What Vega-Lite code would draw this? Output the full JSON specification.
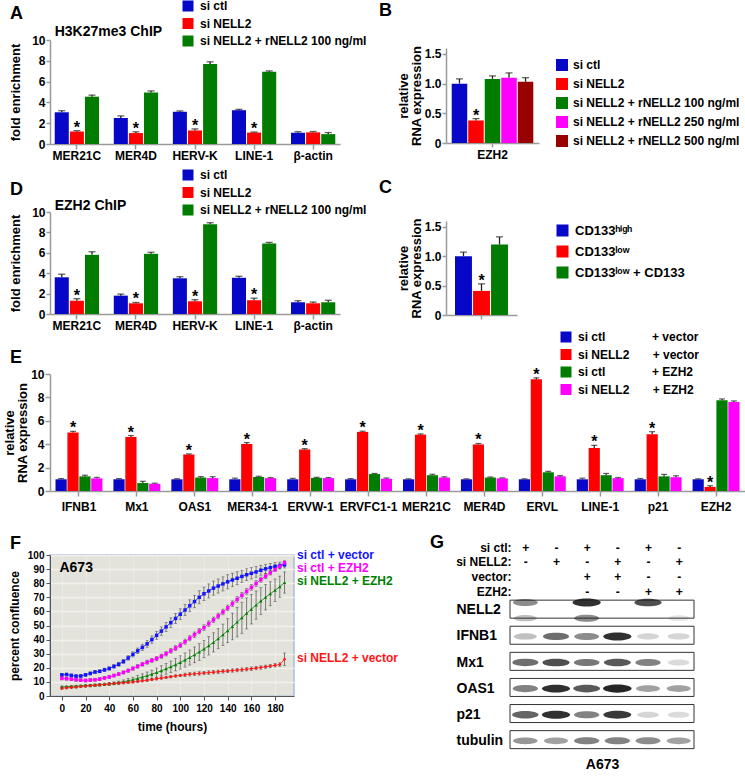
{
"$schema": "https://vega.github.io/schema/vega-lite/v6.json",
"background": "white",
"padding": {"left": 3, "top": 0, "right": 0, "bottom": 0},
"config": {
 "font": "Liberation Sans",
 "view": {"stroke": null},
 "axis": {"labelFont": "Liberation Sans", "labelFontWeight": "bold", "labelFontSize": 12, "labelColor": "#000", "titleFont": "Liberation Sans", "titleFontWeight": "bold", "titleFontSize": 13, "titleColor": "#000", "domainColor": "#9a9a9a", "domainWidth": 1.5, "tickColor": "#9a9a9a", "tickWidth": 1.5, "tickSize": 5, "grid": false, "labelPadding": 3, "titlePadding": 6, "labelOverlap": false},
 "legend": {"labelFont": "Liberation Sans", "labelFontWeight": "bold", "labelFontSize": 12, "labelColor": "#000", "symbolType": "square", "symbolStrokeWidth": 0, "symbolOpacity": 1, "labelLimit": 400, "padding": 0},
 "title": {"font": "Liberation Sans", "fontWeight": "bold", "fontSize": 18, "color": "#000", "anchor": "start", "frame": "group"}
},
"datasets": {
 "A": [
  {"gene":"MER21C","cond":"si ctl","value":3.05,"err":0.15,"star":""},
  {"gene":"MER21C","cond":"si NELL2","value":1.2,"err":0.08,"star":"*"},
  {"gene":"MER21C","cond":"si NELL2 + rNELL2 100 ng/ml","value":4.55,"err":0.15,"star":""},
  {"gene":"MER4D","cond":"si ctl","value":2.5,"err":0.2,"star":""},
  {"gene":"MER4D","cond":"si NELL2","value":1.05,"err":0.12,"star":"*"},
  {"gene":"MER4D","cond":"si NELL2 + rNELL2 100 ng/ml","value":4.95,"err":0.15,"star":""},
  {"gene":"HERV-K","cond":"si ctl","value":3.1,"err":0.08,"star":""},
  {"gene":"HERV-K","cond":"si NELL2","value":1.3,"err":0.15,"star":"*"},
  {"gene":"HERV-K","cond":"si NELL2 + rNELL2 100 ng/ml","value":7.7,"err":0.2,"star":""},
  {"gene":"LINE-1","cond":"si ctl","value":3.25,"err":0.08,"star":""},
  {"gene":"LINE-1","cond":"si NELL2","value":1.1,"err":0.05,"star":"*"},
  {"gene":"LINE-1","cond":"si NELL2 + rNELL2 100 ng/ml","value":6.95,"err":0.08,"star":""},
  {"gene":"β-actin","cond":"si ctl","value":1.08,"err":0.1,"star":""},
  {"gene":"β-actin","cond":"si NELL2","value":1.12,"err":0.08,"star":""},
  {"gene":"β-actin","cond":"si NELL2 + rNELL2 100 ng/ml","value":0.95,"err":0.15,"star":""}
 ],
 "D": [
  {"gene":"MER21C","cond":"si ctl","value":3.6,"err":0.3,"star":""},
  {"gene":"MER21C","cond":"si NELL2","value":1.3,"err":0.2,"star":"*"},
  {"gene":"MER21C","cond":"si NELL2 + rNELL2 100 ng/ml","value":5.8,"err":0.3,"star":""},
  {"gene":"MER4D","cond":"si ctl","value":1.8,"err":0.15,"star":""},
  {"gene":"MER4D","cond":"si NELL2","value":1.05,"err":0.08,"star":"*"},
  {"gene":"MER4D","cond":"si NELL2 + rNELL2 100 ng/ml","value":5.9,"err":0.15,"star":""},
  {"gene":"HERV-K","cond":"si ctl","value":3.5,"err":0.15,"star":""},
  {"gene":"HERV-K","cond":"si NELL2","value":1.25,"err":0.15,"star":"*"},
  {"gene":"HERV-K","cond":"si NELL2 + rNELL2 100 ng/ml","value":8.8,"err":0.15,"star":""},
  {"gene":"LINE-1","cond":"si ctl","value":3.55,"err":0.15,"star":""},
  {"gene":"LINE-1","cond":"si NELL2","value":1.35,"err":0.2,"star":"*"},
  {"gene":"LINE-1","cond":"si NELL2 + rNELL2 100 ng/ml","value":6.9,"err":0.12,"star":""},
  {"gene":"β-actin","cond":"si ctl","value":1.15,"err":0.15,"star":""},
  {"gene":"β-actin","cond":"si NELL2","value":1.05,"err":0.12,"star":""},
  {"gene":"β-actin","cond":"si NELL2 + rNELL2 100 ng/ml","value":1.15,"err":0.2,"star":""}
 ],
 "B": [
  {"gene":"EZH2","cond":"si ctl","value":1.0,"err":0.08,"star":""},
  {"gene":"EZH2","cond":"si NELL2","value":0.38,"err":0.03,"star":"*"},
  {"gene":"EZH2","cond":"si NELL2 + rNELL2 100 ng/ml","value":1.08,"err":0.05,"star":""},
  {"gene":"EZH2","cond":"si NELL2 + rNELL2 250 ng/ml","value":1.1,"err":0.08,"star":""},
  {"gene":"EZH2","cond":"si NELL2 + rNELL2 500 ng/ml","value":1.03,"err":0.07,"star":""}
 ],
 "C": [
  {"gene":"EZH2","cond":"high","value":1.0,"err":0.07,"star":""},
  {"gene":"EZH2","cond":"low","value":0.41,"err":0.12,"star":"*"},
  {"gene":"EZH2","cond":"lowCD","value":1.2,"err":0.13,"star":""}
 ],
 "E": [
  {"gene":"IFNB1","cond":"cv","value":1.0,"err":0.06,"star":""},
  {"gene":"IFNB1","cond":"nv","value":5.0,"err":0.1,"star":"*"},
  {"gene":"IFNB1","cond":"ce","value":1.25,"err":0.1,"star":""},
  {"gene":"IFNB1","cond":"ne","value":1.08,"err":0.08,"star":""},
  {"gene":"Mx1","cond":"cv","value":1.0,"err":0.06,"star":""},
  {"gene":"Mx1","cond":"nv","value":4.62,"err":0.12,"star":"*"},
  {"gene":"Mx1","cond":"ce","value":0.68,"err":0.15,"star":""},
  {"gene":"Mx1","cond":"ne","value":0.62,"err":0.05,"star":""},
  {"gene":"OAS1","cond":"cv","value":1.0,"err":0.05,"star":""},
  {"gene":"OAS1","cond":"nv","value":3.12,"err":0.05,"star":"*"},
  {"gene":"OAS1","cond":"ce","value":1.15,"err":0.08,"star":""},
  {"gene":"OAS1","cond":"ne","value":1.1,"err":0.12,"star":""},
  {"gene":"MER34-1","cond":"cv","value":1.0,"err":0.1,"star":""},
  {"gene":"MER34-1","cond":"nv","value":4.02,"err":0.12,"star":"*"},
  {"gene":"MER34-1","cond":"ce","value":1.2,"err":0.06,"star":""},
  {"gene":"MER34-1","cond":"ne","value":1.1,"err":0.05,"star":""},
  {"gene":"ERVW-1","cond":"cv","value":1.0,"err":0.08,"star":""},
  {"gene":"ERVW-1","cond":"nv","value":3.55,"err":0.07,"star":"*"},
  {"gene":"ERVW-1","cond":"ce","value":1.12,"err":0.05,"star":""},
  {"gene":"ERVW-1","cond":"ne","value":1.1,"err":0.05,"star":""},
  {"gene":"ERVFC1-1","cond":"cv","value":1.0,"err":0.06,"star":""},
  {"gene":"ERVFC1-1","cond":"nv","value":5.05,"err":0.06,"star":"*"},
  {"gene":"ERVFC1-1","cond":"ce","value":1.45,"err":0.05,"star":""},
  {"gene":"ERVFC1-1","cond":"ne","value":1.05,"err":0.06,"star":""},
  {"gene":"MER21C","cond":"cv","value":1.0,"err":0.04,"star":""},
  {"gene":"MER21C","cond":"nv","value":4.82,"err":0.06,"star":"*"},
  {"gene":"MER21C","cond":"ce","value":1.35,"err":0.08,"star":""},
  {"gene":"MER21C","cond":"ne","value":1.15,"err":0.06,"star":""},
  {"gene":"MER4D","cond":"cv","value":1.0,"err":0.04,"star":""},
  {"gene":"MER4D","cond":"nv","value":3.98,"err":0.08,"star":"*"},
  {"gene":"MER4D","cond":"ce","value":1.15,"err":0.05,"star":""},
  {"gene":"MER4D","cond":"ne","value":1.08,"err":0.04,"star":""},
  {"gene":"ERVL","cond":"cv","value":1.0,"err":0.04,"star":""},
  {"gene":"ERVL","cond":"nv","value":9.55,"err":0.12,"star":"*"},
  {"gene":"ERVL","cond":"ce","value":1.6,"err":0.08,"star":""},
  {"gene":"ERVL","cond":"ne","value":1.25,"err":0.06,"star":""},
  {"gene":"LINE-1","cond":"cv","value":1.0,"err":0.1,"star":""},
  {"gene":"LINE-1","cond":"nv","value":3.68,"err":0.22,"star":"*"},
  {"gene":"LINE-1","cond":"ce","value":1.35,"err":0.15,"star":""},
  {"gene":"LINE-1","cond":"ne","value":1.1,"err":0.05,"star":""},
  {"gene":"p21","cond":"cv","value":1.0,"err":0.07,"star":""},
  {"gene":"p21","cond":"nv","value":4.85,"err":0.22,"star":"*"},
  {"gene":"p21","cond":"ce","value":1.25,"err":0.17,"star":""},
  {"gene":"p21","cond":"ne","value":1.18,"err":0.12,"star":""},
  {"gene":"EZH2","cond":"cv","value":1.0,"err":0.04,"star":""},
  {"gene":"EZH2","cond":"nv","value":0.35,"err":0.1,"star":"*"},
  {"gene":"EZH2","cond":"ce","value":7.75,"err":0.12,"star":""},
  {"gene":"EZH2","cond":"ne","value":7.6,"err":0.1,"star":""}
 ],
 "growth": [
  {"t":0,"s":"cv","v":15,"e":1},{"t":4,"s":"cv","v":15.2,"e":1},{"t":8,"s":"cv","v":14.6,"e":1},{"t":12,"s":"cv","v":14.1,"e":1},{"t":16,"s":"cv","v":14.2,"e":1},{"t":20,"s":"cv","v":15,"e":1},{"t":24,"s":"cv","v":16,"e":1},{"t":28,"s":"cv","v":17,"e":1},{"t":32,"s":"cv","v":17.5,"e":1},{"t":36,"s":"cv","v":18.5,"e":1.2},{"t":40,"s":"cv","v":19.5,"e":1.2},{"t":44,"s":"cv","v":21,"e":1.3},{"t":48,"s":"cv","v":22.5,"e":1.4},{"t":52,"s":"cv","v":24.5,"e":1.5},{"t":56,"s":"cv","v":27,"e":1.6},{"t":60,"s":"cv","v":29.5,"e":1.8},{"t":64,"s":"cv","v":32,"e":2},{"t":68,"s":"cv","v":34.5,"e":2.2},{"t":72,"s":"cv","v":37,"e":2.4},{"t":76,"s":"cv","v":40,"e":2.6},{"t":80,"s":"cv","v":43,"e":2.8},{"t":84,"s":"cv","v":46,"e":3},{"t":88,"s":"cv","v":49,"e":3.2},{"t":92,"s":"cv","v":52,"e":3.4},{"t":96,"s":"cv","v":55,"e":3.6},{"t":100,"s":"cv","v":58,"e":3.8},{"t":104,"s":"cv","v":61,"e":4},{"t":108,"s":"cv","v":64,"e":4.2},{"t":112,"s":"cv","v":67,"e":4.4},{"t":116,"s":"cv","v":70,"e":4.6},{"t":120,"s":"cv","v":72.5,"e":4.8},{"t":124,"s":"cv","v":74.5,"e":5},{"t":128,"s":"cv","v":76.5,"e":5},{"t":132,"s":"cv","v":78,"e":5},{"t":136,"s":"cv","v":79.5,"e":5},{"t":140,"s":"cv","v":81,"e":5},{"t":144,"s":"cv","v":82.3,"e":4.8},{"t":148,"s":"cv","v":83.5,"e":4.6},{"t":152,"s":"cv","v":84.8,"e":4.4},{"t":156,"s":"cv","v":86,"e":4.2},{"t":160,"s":"cv","v":87,"e":4},{"t":164,"s":"cv","v":88,"e":3.8},{"t":168,"s":"cv","v":89.2,"e":3.5},{"t":172,"s":"cv","v":90.2,"e":3.2},{"t":176,"s":"cv","v":91,"e":3},{"t":180,"s":"cv","v":92,"e":2.8},{"t":184,"s":"cv","v":92.5,"e":2.5},{"t":188,"s":"cv","v":93,"e":2.2},
  {"t":0,"s":"ce","v":12.5,"e":1},{"t":4,"s":"ce","v":12.3,"e":1},{"t":8,"s":"ce","v":12,"e":1},{"t":12,"s":"ce","v":11.5,"e":1},{"t":16,"s":"ce","v":11.2,"e":1},{"t":20,"s":"ce","v":11,"e":1},{"t":24,"s":"ce","v":11.3,"e":1},{"t":28,"s":"ce","v":11.5,"e":1},{"t":32,"s":"ce","v":12,"e":1},{"t":36,"s":"ce","v":12.8,"e":1},{"t":40,"s":"ce","v":13.5,"e":1},{"t":44,"s":"ce","v":14.5,"e":1},{"t":48,"s":"ce","v":15.5,"e":1},{"t":52,"s":"ce","v":16.7,"e":1.1},{"t":56,"s":"ce","v":18,"e":1.2},{"t":60,"s":"ce","v":19.5,"e":1.2},{"t":64,"s":"ce","v":21,"e":1.3},{"t":68,"s":"ce","v":22.5,"e":1.3},{"t":72,"s":"ce","v":24,"e":1.4},{"t":76,"s":"ce","v":25.3,"e":1.4},{"t":80,"s":"ce","v":26.5,"e":1.5},{"t":84,"s":"ce","v":28.2,"e":1.5},{"t":88,"s":"ce","v":30,"e":1.6},{"t":92,"s":"ce","v":32,"e":1.6},{"t":96,"s":"ce","v":34,"e":1.7},{"t":100,"s":"ce","v":36,"e":1.7},{"t":104,"s":"ce","v":38.5,"e":1.8},{"t":108,"s":"ce","v":41,"e":1.8},{"t":112,"s":"ce","v":43.5,"e":1.9},{"t":116,"s":"ce","v":46,"e":1.9},{"t":120,"s":"ce","v":48.5,"e":2},{"t":124,"s":"ce","v":51.3,"e":2},{"t":128,"s":"ce","v":54,"e":2},{"t":132,"s":"ce","v":56.8,"e":2},{"t":136,"s":"ce","v":59.6,"e":2},{"t":140,"s":"ce","v":62.5,"e":2},{"t":144,"s":"ce","v":65.5,"e":2},{"t":148,"s":"ce","v":68.5,"e":2},{"t":152,"s":"ce","v":71.4,"e":2},{"t":156,"s":"ce","v":74.2,"e":2},{"t":160,"s":"ce","v":77,"e":2},{"t":164,"s":"ce","v":79.8,"e":2},{"t":168,"s":"ce","v":82.5,"e":1.8},{"t":172,"s":"ce","v":85,"e":1.8},{"t":176,"s":"ce","v":87.4,"e":1.6},{"t":180,"s":"ce","v":89.7,"e":1.5},{"t":184,"s":"ce","v":92,"e":1.5},{"t":188,"s":"ce","v":94.5,"e":1.4},
  {"t":0,"s":"ne","v":6.5,"e":0.6},{"t":4,"s":"ne","v":6.6,"e":0.6},{"t":8,"s":"ne","v":6.8,"e":0.6},{"t":12,"s":"ne","v":7,"e":0.6},{"t":16,"s":"ne","v":7.2,"e":0.6},{"t":20,"s":"ne","v":7.4,"e":0.7},{"t":24,"s":"ne","v":7.6,"e":0.7},{"t":28,"s":"ne","v":7.8,"e":0.7},{"t":32,"s":"ne","v":8,"e":0.8},{"t":36,"s":"ne","v":8.3,"e":0.8},{"t":40,"s":"ne","v":8.6,"e":0.9},{"t":44,"s":"ne","v":9,"e":1},{"t":48,"s":"ne","v":9.5,"e":1.1},{"t":52,"s":"ne","v":10.1,"e":1.3},{"t":56,"s":"ne","v":10.8,"e":1.5},{"t":60,"s":"ne","v":11.6,"e":1.7},{"t":64,"s":"ne","v":12.5,"e":2},{"t":68,"s":"ne","v":13.4,"e":2.3},{"t":72,"s":"ne","v":14.4,"e":2.6},{"t":76,"s":"ne","v":15.5,"e":2.9},{"t":80,"s":"ne","v":16.6,"e":3.2},{"t":84,"s":"ne","v":17.9,"e":3.5},{"t":88,"s":"ne","v":19.3,"e":3.8},{"t":92,"s":"ne","v":20.7,"e":4.1},{"t":96,"s":"ne","v":22.2,"e":4.4},{"t":100,"s":"ne","v":23.8,"e":4.7},{"t":104,"s":"ne","v":25.5,"e":5},{"t":108,"s":"ne","v":27.3,"e":5.3},{"t":112,"s":"ne","v":29.2,"e":5.6},{"t":116,"s":"ne","v":31.2,"e":5.9},{"t":120,"s":"ne","v":33.3,"e":6.2},{"t":124,"s":"ne","v":35.6,"e":6.5},{"t":128,"s":"ne","v":38,"e":6.8},{"t":132,"s":"ne","v":40.6,"e":7.1},{"t":136,"s":"ne","v":43.4,"e":7.6},{"t":140,"s":"ne","v":46.3,"e":8.5},{"t":144,"s":"ne","v":49.3,"e":9.5},{"t":148,"s":"ne","v":52.4,"e":10.5},{"t":152,"s":"ne","v":55.5,"e":11},{"t":156,"s":"ne","v":58.6,"e":11},{"t":160,"s":"ne","v":61.6,"e":10.5},{"t":164,"s":"ne","v":64.5,"e":10},{"t":168,"s":"ne","v":67.3,"e":9.5},{"t":172,"s":"ne","v":70,"e":9},{"t":176,"s":"ne","v":72.5,"e":8.5},{"t":180,"s":"ne","v":75,"e":8},{"t":184,"s":"ne","v":77.5,"e":7.5},{"t":188,"s":"ne","v":80.5,"e":7.5},
  {"t":0,"s":"nv","v":5.5,"e":0.8},{"t":4,"s":"nv","v":5.8,"e":0.8},{"t":8,"s":"nv","v":6.1,"e":0.8},{"t":12,"s":"nv","v":6.4,"e":0.8},{"t":16,"s":"nv","v":6.7,"e":0.8},{"t":20,"s":"nv","v":7,"e":0.8},{"t":24,"s":"nv","v":7.3,"e":0.8},{"t":28,"s":"nv","v":7.6,"e":0.8},{"t":32,"s":"nv","v":7.9,"e":0.8},{"t":36,"s":"nv","v":8.2,"e":0.8},{"t":40,"s":"nv","v":8.5,"e":0.8},{"t":44,"s":"nv","v":8.8,"e":0.8},{"t":48,"s":"nv","v":9.1,"e":0.8},{"t":52,"s":"nv","v":9.4,"e":0.8},{"t":56,"s":"nv","v":9.7,"e":0.8},{"t":60,"s":"nv","v":10,"e":0.8},{"t":64,"s":"nv","v":10.4,"e":0.8},{"t":68,"s":"nv","v":10.8,"e":0.8},{"t":72,"s":"nv","v":11.2,"e":0.8},{"t":76,"s":"nv","v":11.7,"e":0.8},{"t":80,"s":"nv","v":12.2,"e":0.8},{"t":84,"s":"nv","v":12.7,"e":0.8},{"t":88,"s":"nv","v":13.2,"e":0.8},{"t":92,"s":"nv","v":13.7,"e":0.8},{"t":96,"s":"nv","v":14.2,"e":0.8},{"t":100,"s":"nv","v":14.6,"e":0.8},{"t":104,"s":"nv","v":15,"e":1.2},{"t":108,"s":"nv","v":15.4,"e":1.2},{"t":112,"s":"nv","v":15.7,"e":1.2},{"t":116,"s":"nv","v":16,"e":1.2},{"t":120,"s":"nv","v":16.3,"e":1.2},{"t":124,"s":"nv","v":16.6,"e":1.2},{"t":128,"s":"nv","v":16.9,"e":1.2},{"t":132,"s":"nv","v":17.2,"e":1.2},{"t":136,"s":"nv","v":17.5,"e":1.2},{"t":140,"s":"nv","v":17.8,"e":1.2},{"t":144,"s":"nv","v":18.1,"e":1.2},{"t":148,"s":"nv","v":18.4,"e":1.2},{"t":152,"s":"nv","v":18.7,"e":1.2},{"t":156,"s":"nv","v":19,"e":1.2},{"t":160,"s":"nv","v":19.4,"e":1.2},{"t":164,"s":"nv","v":19.8,"e":1.2},{"t":168,"s":"nv","v":20.2,"e":1.2},{"t":172,"s":"nv","v":20.7,"e":1.2},{"t":176,"s":"nv","v":21.2,"e":1.2},{"t":180,"s":"nv","v":21.8,"e":1.2},{"t":184,"s":"nv","v":22.3,"e":1.2},{"t":188,"s":"nv","v":26,"e":4.5}
 ],
 "blot": [
  {"protein":"NELL2","lane":1,"pos":"upper","level":0.5},{"protein":"NELL2","lane":1,"pos":"lower","level":0.25},
  {"protein":"NELL2","lane":3,"pos":"upper","level":0.95},{"protein":"NELL2","lane":3,"pos":"lower","level":0.5},
  {"protein":"NELL2","lane":5,"pos":"upper","level":0.8},{"protein":"NELL2","lane":6,"pos":"lower","level":0.06},
  {"protein":"IFNB1","lane":1,"pos":"mid","level":0.25},{"protein":"IFNB1","lane":2,"pos":"mid","level":0.65},{"protein":"IFNB1","lane":3,"pos":"mid","level":0.5},{"protein":"IFNB1","lane":4,"pos":"mid","level":0.95},{"protein":"IFNB1","lane":5,"pos":"mid","level":0.15},{"protein":"IFNB1","lane":6,"pos":"mid","level":0.15},
  {"protein":"Mx1","lane":1,"pos":"mid","level":0.65},{"protein":"Mx1","lane":2,"pos":"mid","level":0.8},{"protein":"Mx1","lane":3,"pos":"mid","level":0.6},{"protein":"Mx1","lane":4,"pos":"mid","level":0.75},{"protein":"Mx1","lane":5,"pos":"mid","level":0.55},{"protein":"Mx1","lane":6,"pos":"mid","level":0.12},
  {"protein":"OAS1","lane":1,"pos":"mid","level":0.55},{"protein":"OAS1","lane":2,"pos":"mid","level":0.95},{"protein":"OAS1","lane":3,"pos":"mid","level":0.75},{"protein":"OAS1","lane":4,"pos":"mid","level":1.0},{"protein":"OAS1","lane":5,"pos":"mid","level":0.4},{"protein":"OAS1","lane":6,"pos":"mid","level":0.4},
  {"protein":"p21","lane":1,"pos":"mid","level":0.7},{"protein":"p21","lane":2,"pos":"mid","level":0.95},{"protein":"p21","lane":3,"pos":"mid","level":0.55},{"protein":"p21","lane":4,"pos":"mid","level":0.9},{"protein":"p21","lane":5,"pos":"mid","level":0.15},{"protein":"p21","lane":6,"pos":"mid","level":0.12},
  {"protein":"tubulin","lane":1,"pos":"mid","level":0.45},{"protein":"tubulin","lane":2,"pos":"mid","level":0.4},{"protein":"tubulin","lane":3,"pos":"mid","level":0.55},{"protein":"tubulin","lane":4,"pos":"mid","level":0.55},{"protein":"tubulin","lane":5,"pos":"mid","level":0.5},{"protein":"tubulin","lane":6,"pos":"mid","level":0.4}
 ]
},
"resolve": {"scale": {"color": "independent", "xOffset": "independent", "shape": "independent", "opacity": "independent", "size": "independent"}, "legend": {"color": "independent"}},
"spacing": 0,
"vconcat": [
 {
  "spacing": 12,
  "resolve": {"scale": {"color": "independent", "xOffset": "independent"}, "legend": {"color": "independent"}},
  "hconcat": [
   {
    "width": 290, "height": 104,
    "title": {"text": "A", "dx": -40, "offset": -23},
    "layer": [
     {
      "data": {"name": "A"},
      "transform": [{"calculate": "datum.value + datum.err", "as": "hi"}],
      "encoding": {
       "x": {"field": "gene", "type": "nominal", "sort": null, "scale": {"paddingInner": 0.25, "paddingOuter": 0.08}, "axis": {"title": null, "labelAngle": 0, "labelPadding": 1}},
       "xOffset": {"field": "cond", "type": "nominal", "sort": null, "scale": {"paddingInner": 0.07}}
      },
      "layer": [
       {"mark": {"type": "bar"}, "encoding": {
         "y": {"field": "value", "type": "quantitative", "scale": {"domain": [0, 10]}, "axis": {"title": "fold enrichment", "values": [0,2,4,6,8,10], "format": "d", "tickCount": 50, "labelOverlap": false, "tickSize": 4, "labelPadding": 1, "titlePadding": 9}},
         "color": {"field": "cond", "type": "nominal", "scale": {"domain": ["si ctl","si NELL2","si NELL2 + rNELL2 100 ng/ml"], "range": ["#0707c8","#ff0000","#007d00"]},
           "legend": {"title": null, "orient": "none", "legendX": 132, "legendY": -40, "symbolSize": 121, "rowPadding": 5.5, "labelOffset": 6}}}},
       {"mark": {"type": "rule", "color": "#222", "strokeWidth": 1.3}, "encoding": {"y": {"field": "value", "type": "quantitative"}, "y2": {"field": "hi"}}},
       {"mark": {"type": "tick", "orient": "horizontal", "color": "#222", "size": 7, "thickness": 1.3}, "encoding": {"y": {"field": "hi", "type": "quantitative"}}},
       {"transform": [{"filter": "datum.star == '*'"}], "mark": {"type": "text", "fontSize": 16, "fontWeight": "bold", "baseline": "alphabetic", "dy": 2}, "encoding": {"y": {"field": "hi", "type": "quantitative"}, "text": {"field": "star"}}}
      ]
     },
     {
      "data": {"values": [{"label": "H3K27me3 ChIP"}]},
      "mark": {"type": "text", "align": "left", "baseline": "middle", "dy": -8, "fontSize": 14, "fontWeight": "bold", "color": "#000"},
      "encoding": {"x": {"datum": "MER21C", "type": "nominal", "bandPosition": 0}, "y": {"datum": 10, "type": "quantitative"}, "text": {"field": "label"}}
     }
    ]
   },
   {
    "width": 93, "height": 103,
    "data": {"name": "B"},
    "title": {"text": "B", "dx": -67, "offset": 20},
    "transform": [{"calculate": "datum.value + datum.err", "as": "hi"}],
    "encoding": {
     "x": {"field": "gene", "type": "nominal", "scale": {"paddingInner": 0, "paddingOuter": 0.07}, "axis": {"title": ".", "titleColor": "white", "titleFontSize": 2, "titlePadding": 7, "labelAngle": 0, "tickSize": 4, "labelPadding": 2}},
     "xOffset": {"field": "cond", "type": "nominal", "sort": null, "scale": {"paddingInner": 0.06}}
    },
    "layer": [
     {"mark": {"type": "bar"}, "encoding": {
       "y": {"field": "value", "type": "quantitative", "scale": {"domain": [0, 1.5], "range": [103, 8]}, "axis": {"title": ["relative", "RNA expression"], "values": [0, 0.5, 1, 1.5], "tickCount": 50, "labelOverlap": false, "labelExpr": "datum.value == 0 ? '0' : format(datum.value, '.1f')", "titleLineHeight": 13, "tickSize": 4, "labelPadding": 1, "titlePadding": 1}},
       "color": {"field": "cond", "type": "nominal", "scale": {"domain": ["si ctl","si NELL2","si NELL2 + rNELL2 100 ng/ml","si NELL2 + rNELL2 250 ng/ml","si NELL2 + rNELL2 500 ng/ml"], "range": ["#0707c8","#ff0000","#007d00","#ff00ff","#990000"]},
         "legend": {"title": null, "orient": "none", "legendX": 110, "legendY": 19, "symbolSize": 144, "rowPadding": 7, "labelOffset": 5}}}},
     {"mark": {"type": "rule", "color": "#222", "strokeWidth": 1.3}, "encoding": {"y": {"field": "value", "type": "quantitative"}, "y2": {"field": "hi"}}},
     {"mark": {"type": "tick", "orient": "horizontal", "color": "#222", "size": 7, "thickness": 1.3}, "encoding": {"y": {"field": "hi", "type": "quantitative"}}},
     {"transform": [{"filter": "datum.star == '*'"}], "mark": {"type": "text", "fontSize": 16, "fontWeight": "bold", "baseline": "alphabetic", "dy": 2}, "encoding": {"y": {"field": "hi", "type": "quantitative"}, "text": {"field": "star"}}}
    ]
   }
  ]
 },
 {
  "spacing": 12,
  "resolve": {"scale": {"color": "independent", "xOffset": "independent"}, "legend": {"color": "independent"}},
  "hconcat": [
   {
    "width": 290, "height": 102,
    "title": {"text": "D", "dx": -40, "offset": -30},
    "layer": [
     {
      "data": {"name": "D"},
      "transform": [{"calculate": "datum.value + datum.err", "as": "hi"}],
      "encoding": {
       "x": {"field": "gene", "type": "nominal", "sort": null, "scale": {"paddingInner": 0.25, "paddingOuter": 0.08}, "axis": {"title": null, "labelAngle": 0, "labelPadding": 1}},
       "xOffset": {"field": "cond", "type": "nominal", "sort": null, "scale": {"paddingInner": 0.07}}
      },
      "layer": [
       {"mark": {"type": "bar"}, "encoding": {
         "y": {"field": "value", "type": "quantitative", "scale": {"domain": [0, 10]}, "axis": {"title": "fold enrichment", "values": [0,2,4,6,8,10], "format": "d", "tickCount": 50, "labelOverlap": false, "tickSize": 4, "labelPadding": 1, "titlePadding": 9}},
         "color": {"field": "cond", "type": "nominal", "scale": {"domain": ["si ctl","si NELL2","si NELL2 + rNELL2 100 ng/ml"], "range": ["#0707c8","#ff0000","#007d00"]},
           "legend": {"title": null, "orient": "none", "legendX": 132, "legendY": -43, "symbolSize": 121, "rowPadding": 5.5, "labelOffset": 6}}}},
       {"mark": {"type": "rule", "color": "#222", "strokeWidth": 1.3}, "encoding": {"y": {"field": "value", "type": "quantitative"}, "y2": {"field": "hi"}}},
       {"mark": {"type": "tick", "orient": "horizontal", "color": "#222", "size": 7, "thickness": 1.3}, "encoding": {"y": {"field": "hi", "type": "quantitative"}}},
       {"transform": [{"filter": "datum.star == '*'"}], "mark": {"type": "text", "fontSize": 16, "fontWeight": "bold", "baseline": "alphabetic", "dy": 2}, "encoding": {"y": {"field": "hi", "type": "quantitative"}, "text": {"field": "star"}}}
      ]
     },
     {
      "data": {"values": [{"label": "EZH2 ChIP"}]},
      "mark": {"type": "text", "align": "left", "baseline": "middle", "dy": -6, "fontSize": 14, "fontWeight": "bold", "color": "#000"},
      "encoding": {"x": {"datum": "MER21C", "type": "nominal", "bandPosition": 0}, "y": {"datum": 10, "type": "quantitative"}, "text": {"field": "label"}}
     }
    ]
   },
   {
    "width": 71, "height": 103,
    "data": {"name": "C"},
    "title": {"text": "C", "dx": -67, "offset": 15},
    "transform": [{"calculate": "datum.value + datum.err", "as": "hi"}],
    "encoding": {
     "x": {"field": "gene", "type": "nominal", "scale": {"paddingInner": 0, "paddingOuter": 0.17}, "axis": {"title": null, "labels": false, "tickSize": 4}},
     "xOffset": {"field": "cond", "type": "nominal", "sort": null, "scale": {"paddingInner": 0.06}}
    },
    "layer": [
     {"mark": {"type": "bar"}, "encoding": {
       "y": {"field": "value", "type": "quantitative", "scale": {"domain": [0, 1.5], "range": [103, 9]}, "axis": {"title": ["relative", "RNA expression"], "values": [0, 0.5, 1, 1.5], "tickCount": 50, "labelOverlap": false, "labelExpr": "datum.value == 0 ? '0' : format(datum.value, '.1f')", "titleLineHeight": 13, "tickSize": 4, "labelPadding": 1, "titlePadding": 1}},
       "color": {"field": "cond", "type": "nominal", "scale": {"domain": ["high","low","lowCD"], "range": ["#0707c8","#ff0000","#007d00"]},
         "legend": {"title": null, "orient": "none", "legendX": 110, "legendY": 12, "symbolSize": 144, "rowPadding": 7, "labelOffset": 6, "labelFontSize": 13,
           "labelExpr": "datum.label == 'high' ? 'CD133ʰⁱᵍʰ' : datum.label == 'low' ? 'CD133ˡᵒʷ' : 'CD133ˡᵒʷ + CD133'"}}}},
     {"mark": {"type": "rule", "color": "#222", "strokeWidth": 1.3}, "encoding": {"y": {"field": "value", "type": "quantitative"}, "y2": {"field": "hi"}}},
     {"mark": {"type": "tick", "orient": "horizontal", "color": "#222", "size": 7, "thickness": 1.3}, "encoding": {"y": {"field": "hi", "type": "quantitative"}}},
     {"transform": [{"filter": "datum.star == '*'"}], "mark": {"type": "text", "fontSize": 16, "fontWeight": "bold", "baseline": "alphabetic", "dy": 2}, "encoding": {"y": {"field": "hi", "type": "quantitative"}, "text": {"field": "star"}}}
    ]
   }
  ]
 },
 {
  "width": 695, "height": 117,
  "data": {"name": "E"},
  "title": {"text": "E", "dx": -40, "offset": -36},
  "transform": [{"calculate": "datum.value + datum.err", "as": "hi"}],
  "encoding": {
   "x": {"field": "gene", "type": "nominal", "sort": null, "scale": {"paddingInner": 0.19, "paddingOuter": 0.095}, "axis": {"title": ".", "titleColor": "white", "titleFontSize": 2, "titlePadding": 20, "labelAngle": 0, "labelPadding": 5}},
   "xOffset": {"field": "cond", "type": "nominal", "sort": null, "scale": {"paddingInner": 0.06}}
  },
  "layer": [
   {"mark": {"type": "bar"}, "encoding": {
     "y": {"field": "value", "type": "quantitative", "scale": {"domain": [0, 10]}, "axis": {"title": ["relative", "RNA expression"], "values": [0,2,4,6,8,10], "format": "d", "tickCount": 50, "labelOverlap": false, "titleLineHeight": 13, "tickSize": 5, "labelPadding": 1, "titlePadding": 1}},
     "color": {"field": "cond", "type": "nominal", "scale": {"domain": ["cv","nv","ce","ne"], "range": ["#0707c8","#ff0000","#007d00","#ff00ff"]},
       "legend": {"title": null, "orient": "none", "legendX": 510, "legendY": -43, "symbolSize": 121, "rowPadding": 5.5, "labelOffset": 6,
         "labelExpr": "datum.label == 'cv' ? 'si ctl\u00a0\u00a0\u00a0\u00a0\u00a0\u00a0\u00a0\u00a0\u00a0\u00a0\u00a0\u00a0\u00a0\u00a0+ vector' : datum.label == 'nv' ? 'si NELL2\u00a0\u00a0\u00a0\u00a0\u00a0\u00a0\u00a0+ vector' : datum.label == 'ce' ? 'si ctl\u00a0\u00a0\u00a0\u00a0\u00a0\u00a0\u00a0\u00a0\u00a0\u00a0\u00a0\u00a0\u00a0\u00a0+ EZH2' : 'si NELL2\u00a0\u00a0\u00a0\u00a0\u00a0\u00a0\u00a0+ EZH2'"}}}},
   {"mark": {"type": "rule", "color": "#222", "strokeWidth": 1.2}, "encoding": {"y": {"field": "value", "type": "quantitative"}, "y2": {"field": "hi"}}},
   {"mark": {"type": "tick", "orient": "horizontal", "color": "#222", "size": 6, "thickness": 1.2}, "encoding": {"y": {"field": "hi", "type": "quantitative"}}},
   {"transform": [{"filter": "datum.star == '*'"}], "mark": {"type": "text", "fontSize": 16, "fontWeight": "bold", "baseline": "alphabetic", "dy": 2}, "encoding": {"y": {"field": "hi", "type": "quantitative"}, "text": {"field": "star"}}}
  ]
 },
 {
  "spacing": 31,
  "resolve": {"scale": {"color": "independent", "shape": "independent", "opacity": "independent", "size": "independent"}},
  "hconcat": [
   {
    "width": 244, "height": 141,
    "title": {"text": "F", "dx": -40, "offset": -4},
    "view": {"fill": "#e3e3db", "stroke": "#aabbd6", "strokeWidth": 1.5},
    "layer": [
     {
      "data": {"name": "growth"},
      "transform": [{"calculate": "datum.v - datum.e", "as": "lo"}, {"calculate": "datum.v + datum.e", "as": "hi"}],
      "layer": [
       {"mark": {"type": "rule", "color": "#4a4a4a", "strokeWidth": 0.7}, "encoding": {
         "x": {"field": "t", "type": "quantitative", "scale": {"domain": [-10, 196], "nice": false, "zero": false}, "axis": {"values": [0,20,40,60,80,100,120,140,160,180], "format": "d", "tickCount": 50, "labelOverlap": false, "title": "time (hours)", "labelFontSize": 10, "titleFontSize": 12, "domainColor": "#555", "tickColor": "#555", "domainWidth": 1, "tickWidth": 1, "tickSize": 4, "grid": true, "gridColor": "#ebebe5", "titlePadding": 8}},
         "y": {"field": "lo", "type": "quantitative", "scale": {"domain": [0, 100], "nice": false}, "axis": {"values": [0,10,20,30,40,50,60,70,80,90,100], "format": "d", "tickCount": 50, "labelOverlap": false, "title": "percent confluence", "labelFontSize": 10, "titleFontSize": 12, "domainColor": "#555", "tickColor": "#555", "domainWidth": 1, "tickWidth": 1, "tickSize": 4, "grid": true, "gridColor": "#f1f1ec", "gridWidth": 1.5, "labelPadding": 2}},
         "y2": {"field": "hi"}}},
       {"mark": {"type": "tick", "orient": "horizontal", "color": "#4a4a4a", "size": 3, "thickness": 0.7}, "encoding": {"x": {"field": "t", "type": "quantitative"}, "y": {"field": "hi", "type": "quantitative"}}},
       {"mark": {"type": "tick", "orient": "horizontal", "color": "#4a4a4a", "size": 3, "thickness": 0.7}, "encoding": {"x": {"field": "t", "type": "quantitative"}, "y": {"field": "lo", "type": "quantitative"}}},
       {"mark": {"type": "line", "strokeWidth": 0.8}, "encoding": {"x": {"field": "t", "type": "quantitative"}, "y": {"field": "v", "type": "quantitative"},
         "color": {"field": "s", "type": "nominal", "scale": {"domain": ["cv","ce","ne","nv"], "range": ["#1515ff","#ff00ff","#008000","#ff1515"]}, "legend": null}}},
       {"mark": {"type": "point", "filled": true, "size": 12, "opacity": 1}, "encoding": {"x": {"field": "t", "type": "quantitative"}, "y": {"field": "v", "type": "quantitative"},
         "color": {"field": "s", "type": "nominal", "legend": null},
         "shape": {"field": "s", "type": "nominal", "scale": {"domain": ["cv","ce","ne","nv"], "range": ["square","square","triangle-up","diamond"]}, "legend": null}}}
      ]
     },
     {
      "data": {"values": [{"s": "cv", "name": "si ctl + vector", "v": 100}, {"s": "ce", "name": "si ctl + EZH2", "v": 91}, {"s": "ne", "name": "si NELL2 + EZH2", "v": 81.6}, {"s": "nv", "name": "si NELL2 + vector", "v": 27}]},
      "mark": {"type": "text", "align": "left", "dx": 3, "fontSize": 12, "fontWeight": "bold", "baseline": "middle"},
      "encoding": {"x": {"datum": 196, "type": "quantitative"}, "y": {"field": "v", "type": "quantitative"}, "text": {"field": "name"}, "color": {"field": "s", "type": "nominal", "legend": null}}
     },
     {
      "data": {"values": [{"name": "A673", "t": -2, "v": 90.8}]},
      "mark": {"type": "text", "align": "left", "fontSize": 14, "fontWeight": "bold", "baseline": "middle", "color": "#000"},
      "encoding": {"x": {"field": "t", "type": "quantitative"}, "y": {"field": "v", "type": "quantitative"}, "text": {"field": "name"}}
     }
    ]
   },
   {
    "width": 184, "height": 196,
    "title": {"text": "G", "dx": -80, "offset": -11},
    "resolve": {"axis": {"x": "independent"}},
    "layer": [
     {
      "data": {"values": [{"protein": "NELL2"}, {"protein": "IFNB1"}, {"protein": "Mx1"}, {"protein": "OAS1"}, {"protein": "p21"}, {"protein": "tubulin"}]},
      "mark": {"type": "bar", "fill": "white", "stroke": "#333", "strokeWidth": 1},
      "encoding": {
       "y": {"field": "protein", "type": "nominal", "sort": ["NELL2","IFNB1","Mx1","OAS1","p21","tubulin"], "scale": {"paddingInner": 0.22, "paddingOuter": 0.865, "align": 1}, "axis": {"title": null, "domain": false, "ticks": false, "tickSize": 0, "labelAlign": "left", "labelPadding": 54, "labelFontSize": 14}},
       "x": {"datum": 0.5, "type": "quantitative", "scale": {"domain": [0.5, 6.5], "nice": false, "zero": false},
         "axis": {"orient": "top", "values": [1,2,3,4,5,6], "tickCount": 50, "domain": false, "ticks": false, "tickSize": 0, "labelPadding": 1, "labelFontSize": 12, "labelLineHeight": 14.7, "labelBaseline": "bottom",
           "labelExpr": "[['+','-',' ',' '],['-','+',' ',' '],['+','-','+','-'],['-','+','+','-'],['+','-','-','+'],['-','+','-','+']][datum.value - 1]",
           "title": ["si ctl:", "si NELL2:", "vector:", "EZH2:"], "titleAlign": "right", "titleBaseline": "bottom", "titleAngle": 0, "titleX": 1, "titleY": -1, "titleFontSize": 12, "titleLineHeight": 14.7}},
       "x2": {"datum": 6.5}
      }
     },
     {
      "data": {"name": "blot"},
      "mark": {"type": "point", "shape": "M-1,0A1,0.28,0,1,1,1,0A1,0.28,0,1,1,-1,0Z", "filled": true, "color": "#1a1a1a", "strokeWidth": 0},
      "encoding": {
       "x": {"field": "lane", "type": "quantitative", "axis": {"orient": "bottom", "labels": false, "ticks": false, "domain": false, "title": "A673", "titleFontSize": 14, "titlePadding": 6}},
       "y": {"field": "protein", "type": "nominal", "sort": ["NELL2","IFNB1","Mx1","OAS1","p21","tubulin"]},
       "yOffset": {"field": "pos", "type": "nominal", "scale": {"domain": ["upper","mid","lower"], "paddingOuter": 0.3}},
       "opacity": {"field": "level", "type": "quantitative", "scale": {"domain": [0, 1], "range": [0.05, 0.95]}, "legend": null},
       "size": {"field": "level", "type": "quantitative", "scale": {"domain": [0, 1], "range": [420, 820]}, "legend": null}
      }
     }
    ]
   }
  ]
 }
]
}
